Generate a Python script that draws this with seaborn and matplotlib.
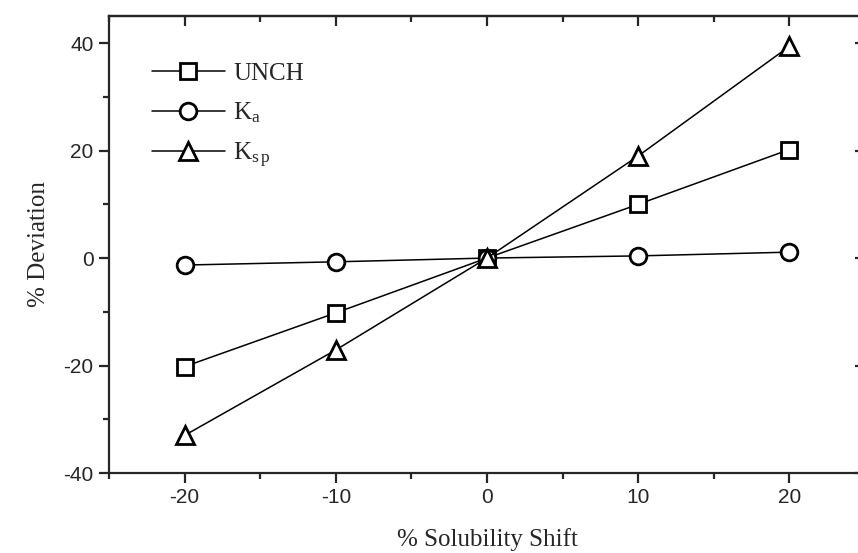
import matplotlib
matplotlib.use("Agg")
import matplotlib.pyplot as plt
import seaborn as sns
import pandas as pd
from matplotlib.ticker import MultipleLocator

# Data
shift = [-20, -10, 0, 10, 20]
unch = [-20.2, -10.2, 0.0, 10.0, 20.2]
ka = [-1.3, -0.7, 0.0, 0.4, 1.1]
ksp = [-33.0, -17.1, 0.0, 19.0, 39.4]
labels = ["UNCH", r"K$_{\mathrm{a}}$", r"K$_{\mathrm{s\,p}}$"]
xticks = [-20, -10, 0, 10, 20]
yticks = [-40, -20, 0, 20, 40]

sns.set_style("ticks")
plt.rcParams["axes.unicode_minus"] = False
plt.rcParams["mathtext.fontset"] = "custom"
plt.rcParams["mathtext.rm"] = "Liberation Serif"
plt.rcParams["mathtext.it"] = "Liberation Serif"

fig = plt.figure(figsize=(8.58, 5.53), dpi=100)
ax = fig.add_axes([109/858, 1-473/553, (865-109)/858, (473-15.7)/553])

series = [(unch, "s", 11), (ka, "o", 12), (ksp, "^", 13)]
for (vals, mk, ms), lab in zip(series, labels):
    df = pd.DataFrame({"x": shift, "y": vals})
    sns.lineplot(data=df, x="x", y="y", ax=ax, color="black", lw=1.1,
                 marker=mk, ms=ms, mfc="white", mec="black", mew=2.0,
                 label=lab)

ax.set_xlim(-25, 25)
ax.set_ylim(-40, 45.1)
ax.set_xticks(xticks)
ax.set_yticks(yticks)
ax.xaxis.set_minor_locator(MultipleLocator(5))
ax.yaxis.set_minor_locator(MultipleLocator(10))
ax.tick_params(which="major", direction="out", length=7, width=1.6,
               labelsize=15, pad=4)
ax.tick_params(which="minor", direction="out", length=4, width=1.6)
for lab in ax.get_xticklabels() + ax.get_yticklabels():
    lab.set_family("Liberation Sans")
for s in ax.spines.values():
    s.set_linewidth(1.6)
    s.set_visible(True)

# inward ticks on top and right
top = ax.secondary_xaxis("top")
top.set_xticks(xticks)
top.xaxis.set_minor_locator(MultipleLocator(5))
top.tick_params(which="major", direction="in", length=7, width=1.6, labeltop=False)
top.tick_params(which="minor", direction="in", length=4, width=1.6)
top.spines["top"].set_linewidth(1.6)
right = ax.secondary_yaxis("right")
right.set_yticks(yticks)
right.yaxis.set_minor_locator(MultipleLocator(10))
right.tick_params(which="major", direction="in", length=7, width=1.6, labelright=False)
right.tick_params(which="minor", direction="in", length=4, width=1.6)
right.spines["right"].set_linewidth(1.6)

ax.set_xlabel("% Solubility Shift", family="Liberation Serif", fontsize=18, labelpad=15)
ax.set_ylabel("% Deviation", family="Liberation Serif", fontsize=18, labelpad=10)

leg = ax.legend(loc="upper left", bbox_to_anchor=(0.057, 0.898), frameon=False,
                prop={"family": "Liberation Serif", "size": 18},
                handlelength=2.9, handletextpad=0.35, labelspacing=0.62,
                borderpad=0, borderaxespad=0)

fig.savefig("out.png", dpi=100)
